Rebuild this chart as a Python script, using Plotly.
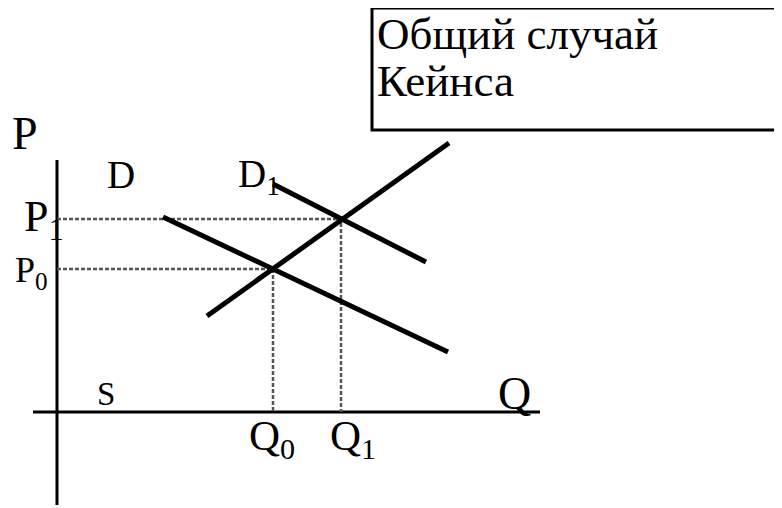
import plotly.graph_objects as go

# axis origin sits at pixel (57, 412); units below are pixels right / up from it
supply_q = [150, 392]
supply_p = [96, 269]
demand_q = [106, 391]
demand_p = [195, 60]
demand1_q = [216, 369]
demand1_p = [228, 150]

eq_q = [216, 284]   # Q0, Q1
eq_p = [143, 193]   # P0, P1

axis_q = [-24, 483]
axis_p = [-93, 252]

SERIF = "Liberation Serif"

fig = go.Figure()

# axes
fig.add_trace(go.Scatter(x=axis_q, y=[0, 0], mode="lines",
                         line=dict(color="black", width=3)))
fig.add_trace(go.Scatter(x=[0, 0], y=axis_p, mode="lines",
                         line=dict(color="black", width=3)))

# guide lines to the equilibria
for q, p in zip(eq_q, eq_p):
    fig.add_trace(go.Scatter(x=[0, q, q], y=[p, p, 0], mode="lines",
                             line=dict(color="#555555", width=2.5, dash="4px,2px")))

# curves
for xs, ys in [(supply_q, supply_p), (demand_q, demand_p), (demand1_q, demand1_p)]:
    fig.add_trace(go.Scatter(x=xs, y=ys, mode="lines",
                             line=dict(color="black", width=5)))

# box in the top right corner
fig.add_shape(type="rect", x0=315, x1=760, y0=282, y1=404,
              line=dict(color="black", width=3), fillcolor="white")

labels = [
    # text, x, y, size, xanchor
    ("P", -32, 279, 46, "center"),
    ("D", 64, 238, 39, "center"),
    ("D<sub>1</sub>", 179, 236, 39, "left"),
    ("P<sub>1</sub>", -35, 193, 44, "left"),
    ("P<sub>0</sub>", -44, 140, 36, "left"),
    ("S", 49, 18, 33, "center"),
    ("Q", 457, 19, 46, "center"),
    ("Q<sub>0</sub>", 190, -27, 43, "left"),
    ("Q<sub>1</sub>", 271, -27, 43, "left"),
    ("Общий случай", 318, 378, 45, "left"),
    ("Кейнса", 318, 331, 45, "left"),
]
for text, x, y, size, xa in labels:
    fig.add_annotation(x=x, y=y, text=text, showarrow=False, xanchor=xa,
                       yanchor="middle", font=dict(family=SERIF, size=size, color="black"))

fig.update_layout(
    width=782, height=508,
    margin=dict(l=0, r=0, t=0, b=0),
    showlegend=False,
    paper_bgcolor="white",
    plot_bgcolor="white",
    # page body adds an 8px offset, so ranges are shifted to compensate
    xaxis=dict(range=[-49, 733], visible=False, fixedrange=True),
    yaxis=dict(range=[-104, 404], visible=False, fixedrange=True),
)

fig.write_html("out.html")
